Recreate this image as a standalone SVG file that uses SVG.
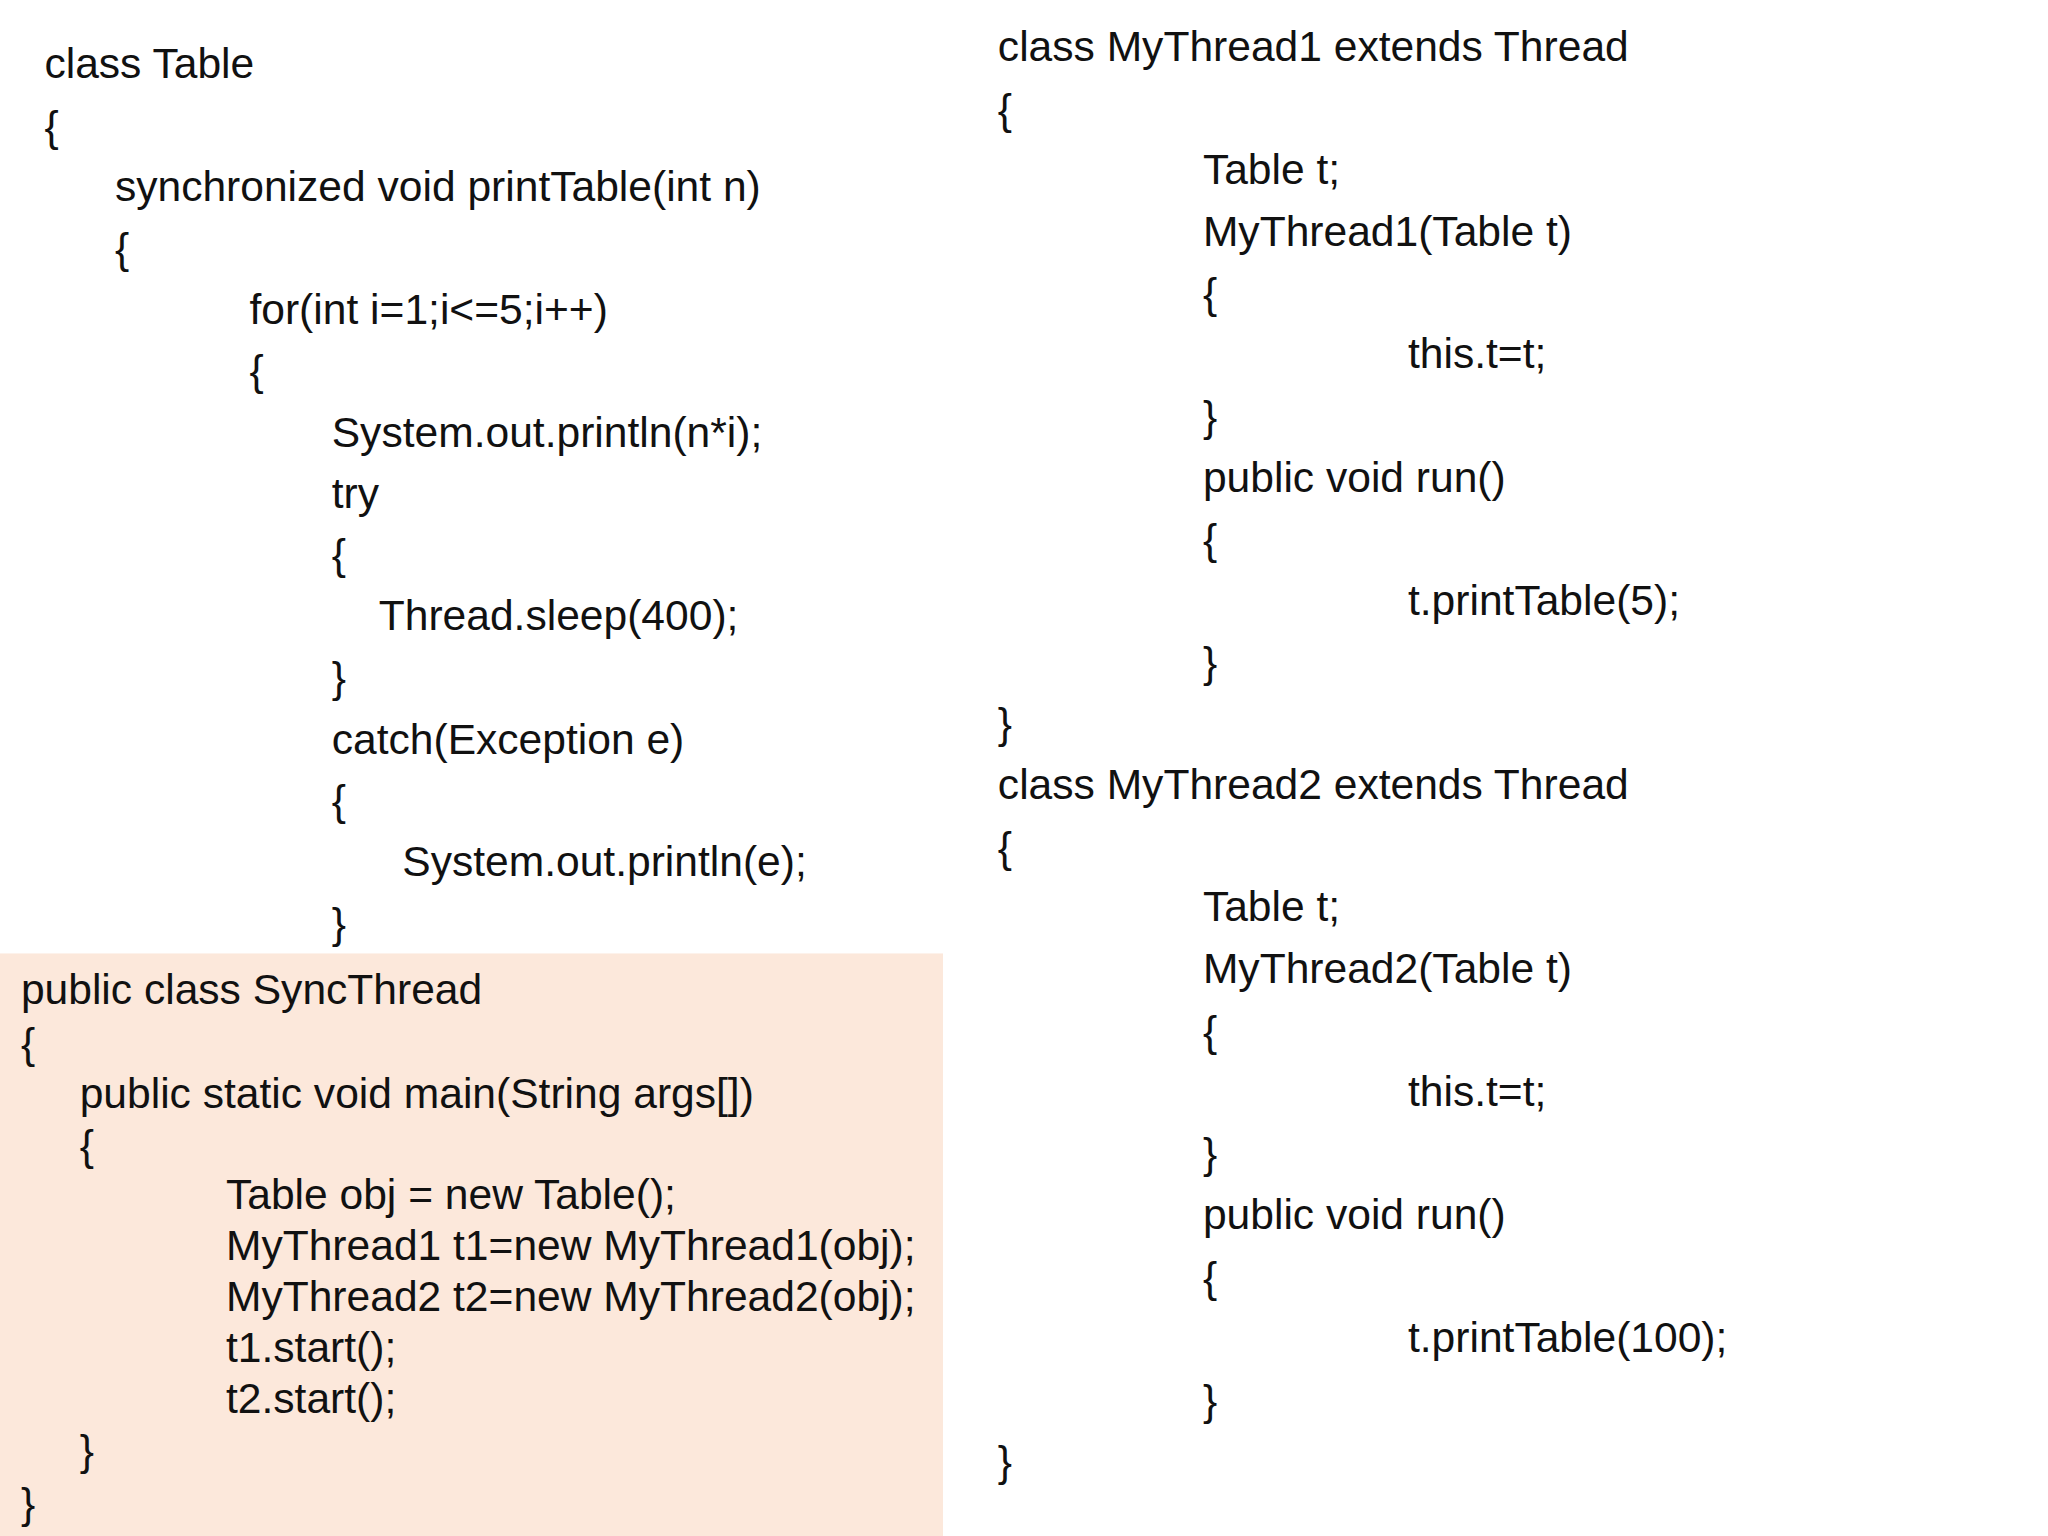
<svg xmlns="http://www.w3.org/2000/svg" width="2048" height="1536" viewBox="0 0 2048 1536">
<style>text{font-family:"Liberation Sans",Arial,sans-serif;font-size:32.6px;fill:#111}</style>
<rect width="2048" height="1536" fill="#fff"/>
<g transform="scale(1.3061)">
<rect x="0" y="730" width="722" height="447" fill="#fce8db"/>
<g id="table">
<text x="34" y="60">class Table</text>
<text x="34" y="108">{</text>
<text x="88" y="154">synchronized void printTable(int n)</text>
<text x="88" y="201">{</text>
<text x="191" y="248">for(int i=1;i&lt;=5;i++)</text>
<text x="191" y="295">{</text>
<text x="254" y="342">System.out.println(n*i);</text>
<text x="254" y="389">try</text>
<text x="254" y="436">{</text>
<text x="290" y="482">Thread.sleep(400);</text>
<text x="254" y="530">}</text>
<text x="254" y="577">catch(Exception e)</text>
<text x="254" y="624">{</text>
<text x="308" y="671">System.out.println(e);</text>
<text x="254" y="718">}</text>
</g>
<g id="sync">
<text x="16" y="769">public class SyncThread</text>
<text x="16" y="810">{</text>
<text x="61" y="848">public static void main(String args[])</text>
<text x="61" y="888">{</text>
<text x="173" y="926">Table obj = new Table();</text>
<text x="173" y="965">MyThread1 t1=new MyThread1(obj);</text>
<text x="173" y="1004">MyThread2 t2=new MyThread2(obj);</text>
<text x="173" y="1043">t1.start();</text>
<text x="173" y="1082">t2.start();</text>
<text x="61" y="1122">}</text>
<text x="16" y="1162">}</text>
</g>
<g id="t1">
<text x="764" y="47">class MyThread1 extends Thread</text>
<text x="764" y="95">{</text>
<text x="921" y="141">Table t;</text>
<text x="921" y="188">MyThread1(Table t)</text>
<text x="921" y="236">{</text>
<text x="1078" y="282">this.t=t;</text>
<text x="921" y="330">}</text>
<text x="921" y="377">public void run()</text>
<text x="921" y="424">{</text>
<text x="1078" y="471">t.printTable(5);</text>
<text x="921" y="518">}</text>
<text x="764" y="565">}</text>
</g>
<g id="t2">
<text x="764" y="612">class MyThread2 extends Thread</text>
<text x="764" y="660">{</text>
<text x="921" y="705">Table t;</text>
<text x="921" y="753">MyThread2(Table t)</text>
<text x="921" y="801">{</text>
<text x="1078" y="847">this.t=t;</text>
<text x="921" y="894">}</text>
<text x="921" y="941">public void run()</text>
<text x="921" y="989">{</text>
<text x="1078" y="1035">t.printTable(100);</text>
<text x="921" y="1083">}</text>
<text x="764" y="1130">}</text>
</g>
</g>
</svg>
